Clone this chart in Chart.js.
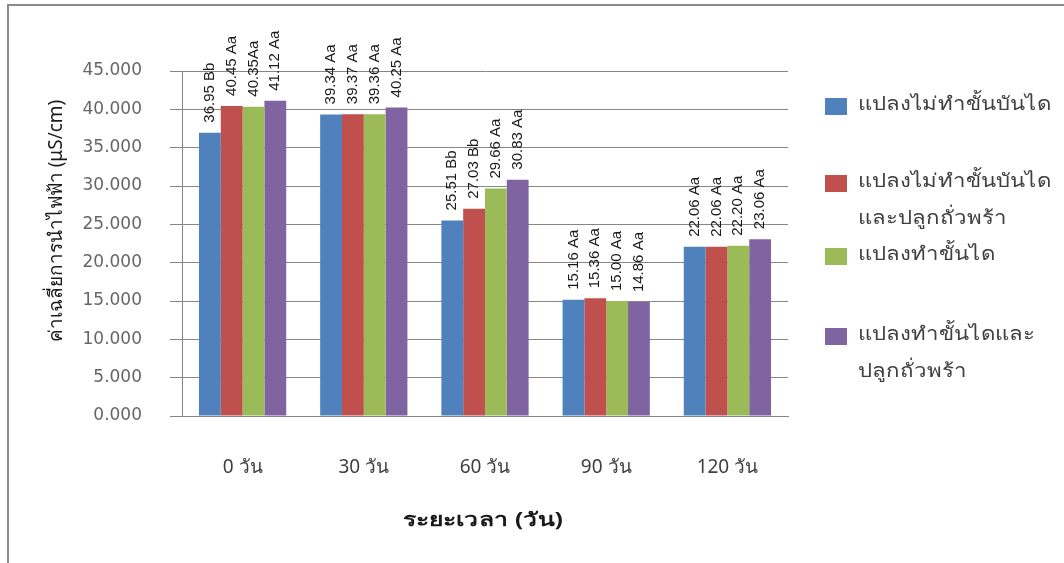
<!DOCTYPE html>
<html>
<head>
  <meta charset="UTF-8">
  <title>ค่าเฉลี่ยการนำไฟฟ้า</title>
  <script src="https://cdn.jsdelivr.net/npm/chart.js@4/dist/chart.umd.min.js"></script>
  <style>
    * { margin: 0; padding: 0; box-sizing: border-box; }
    html, body { background: #fff; width: 1064px; height: 563px; overflow: hidden; }
    .wrap { position: relative; width: 1064px; height: 563px; overflow: hidden; }
    .frame { position: absolute; left: 7px; top: 4px; width: 1100px; height: 600px; border-top: 2px solid #8a8a8a; border-left: 2px solid #8a8a8a; }
    canvas { position: absolute; left: 0; top: 0; }
    .legend { position: absolute; left: 825px; top: 0; font-family: 'Noto Sans', 'DejaVu Sans', sans-serif; font-size: 19px; color: #404040; }
    .legend .item { position: absolute; left: 0; white-space: nowrap; }
    .legend .box { position: absolute; left: 0; width: 22px; height: 17px; }
    .legend .txt { position: absolute; left: 33px; line-height: 37px; transform: scaleX(1.17); transform-origin: left center; }
  </style>
</head>
<body>
<div class="wrap">
  <div class="frame"></div>
  <canvas id="chart" width="1064" height="563"></canvas>
  <div class="legend" id="legend"></div>
</div>
<script>
  // ข้อมูลจากกราฟ
  const categories = ["0 วัน", "30 วัน", "60 วัน", "90 วัน", "120 วัน"];
  const seriesNames = [
    ["แปลงไม่ทำขั้นบันได"],
    ["แปลงไม่ทำขั้นบันได", "และปลูกถั่วพร้า"],
    ["แปลงทำขั้นได"],
    ["แปลงทำขั้นไดและ", "ปลูกถั่วพร้า"]
  ];
  const noTerrace = [36.95, 39.34, 25.51, 15.16, 22.06];
  const noTerraceBean = [40.45, 39.37, 27.03, 15.36, 22.06];
  const terrace = [40.35, 39.36, 29.66, 15.00, 22.20];
  const terraceBean = [41.12, 40.25, 30.83, 14.86, 23.06];
  const noTerraceLabels = ["36.95 Bb", "39.34 Aa", "25.51 Bb", "15.16 Aa", "22.06 Aa"];
  const noTerraceBeanLabels = ["40.45 Aa", "39.37 Aa", "27.03 Bb", "15.36 Aa", "22.06 Aa"];
  const terraceLabels = ["40.35Aa", "39.36 Aa", "29.66 Aa", "15.00 Aa", "22.20 Aa"];
  const terraceBeanLabels = ["41.12 Aa", "40.25 Aa", "30.83 Aa", "14.86 Aa", "23.06 Aa"];
  const colors = ["#4F81BD", "#C0504D", "#9BBB59", "#8064A2"];
  const yTicks = [0, 5, 10, 15, 20, 25, 30, 35, 40, 45];
  const yTitle = "ค่าเฉลี่ยการนำไฟฟ้า (μS/cm)";
  const xTitle = "ระยะเวลา (วัน)";

  const seriesValues = [noTerrace, noTerraceBean, terrace, terraceBean];
  const seriesLabels = [noTerraceLabels, noTerraceBeanLabels, terraceLabels, terraceBeanLabels];

  // ป้ายค่าแนวตั้งเหนือแท่ง
  const barLabels = {
    id: "barLabels",
    afterDatasetsDraw(chart) {
      const ctx = chart.ctx;
      ctx.save();
      ctx.font = "15px 'Liberation Sans', Arial, sans-serif";
      ctx.fillStyle = "#1a1a1a";
      ctx.textAlign = "left";
      ctx.textBaseline = "middle";
      chart.data.datasets.forEach((ds, i) => {
        chart.getDatasetMeta(i).data.forEach((bar, j) => {
          ctx.save();
          ctx.translate(bar.x, bar.y - 10);
          ctx.rotate(-Math.PI / 2);
          ctx.fillText(seriesLabels[i][j], 0, 0);
          ctx.restore();
        });
      });
      ctx.restore();
    }
  };

  // ชื่อแกน
  const axisTitles = {
    id: "axisTitles",
    afterDraw(chart) {
      const ctx = chart.ctx;
      const { left, right } = chart.chartArea;
      ctx.save();
      ctx.fillStyle = "#1a1a1a";
      ctx.textAlign = "center";
      ctx.textBaseline = "middle";
      ctx.font = "bold 19px 'Noto Sans', 'DejaVu Sans', sans-serif";
      ctx.save();
      ctx.translate((left + right) / 2 - 2, 521);
      ctx.scale(1.3, 1);
      ctx.fillText(xTitle, 0, 0);
      ctx.restore();
      ctx.font = "19px 'Noto Sans', 'DejaVu Sans', sans-serif";
      ctx.translate(57, 221);
      ctx.rotate(-Math.PI / 2);
      ctx.fillText(yTitle, 0, 0);
      ctx.restore();
    }
  };

  const chart = new Chart(document.getElementById("chart"), {
    type: "bar",
    data: {
      labels: categories,
      datasets: seriesValues.map((vals, i) => ({
        label: seriesNames[i].join(""),
        data: vals,
        backgroundColor: colors[i],
        borderWidth: 0,
        barPercentage: 1,
        categoryPercentage: 0.72
      }))
    },
    options: {
      responsive: false,
      animation: false,
      layout: { padding: { top: 71, right: 276, left: 0, bottom: 0 } },
      plugins: { legend: { display: false }, tooltip: { enabled: false } },
      scales: {
        x: {
          grid: { display: false, drawTicks: false },
          border: { color: "#868686", width: 1 },
          ticks: {
            padding: 40,
            color: "#404040",
            font: { family: "'Noto Sans', 'DejaVu Sans', sans-serif", size: 19 }
          },
          afterFit(scale) { scale.height = 147; }
        },
        y: {
          min: 0,
          max: 45,
          afterBuildTicks(scale) { scale.ticks = yTicks.map((v) => ({ value: v })); },
          grid: { color: "#868686", tickLength: 12, lineWidth: 1 },
          border: { color: "#868686", width: 1 },
          ticks: {
            padding: 28,
            color: "#666666",
            font: { family: "'DejaVu Sans', sans-serif", size: 17 },
            callback: (v) => v.toFixed(3)
          },
          afterFit(scale) { scale.width = 182; }
        }
      }
    },
    plugins: [barLabels, axisTitles]
  });

  // คำอธิบายสัญลักษณ์
  const legendTops = [85, 162, 235, 315];
  const legend = document.getElementById("legend");
  seriesNames.forEach((lines, i) => {
    const item = document.createElement("div");
    item.className = "item";
    item.style.top = legendTops[i] + "px";
    item.innerHTML = `<div class="box" style="background:${colors[i]};top:13px"></div>` +
      `<div class="txt">${lines.join("<br>")}</div>`;
    legend.appendChild(item);
  });
</script>
</body>
</html>
